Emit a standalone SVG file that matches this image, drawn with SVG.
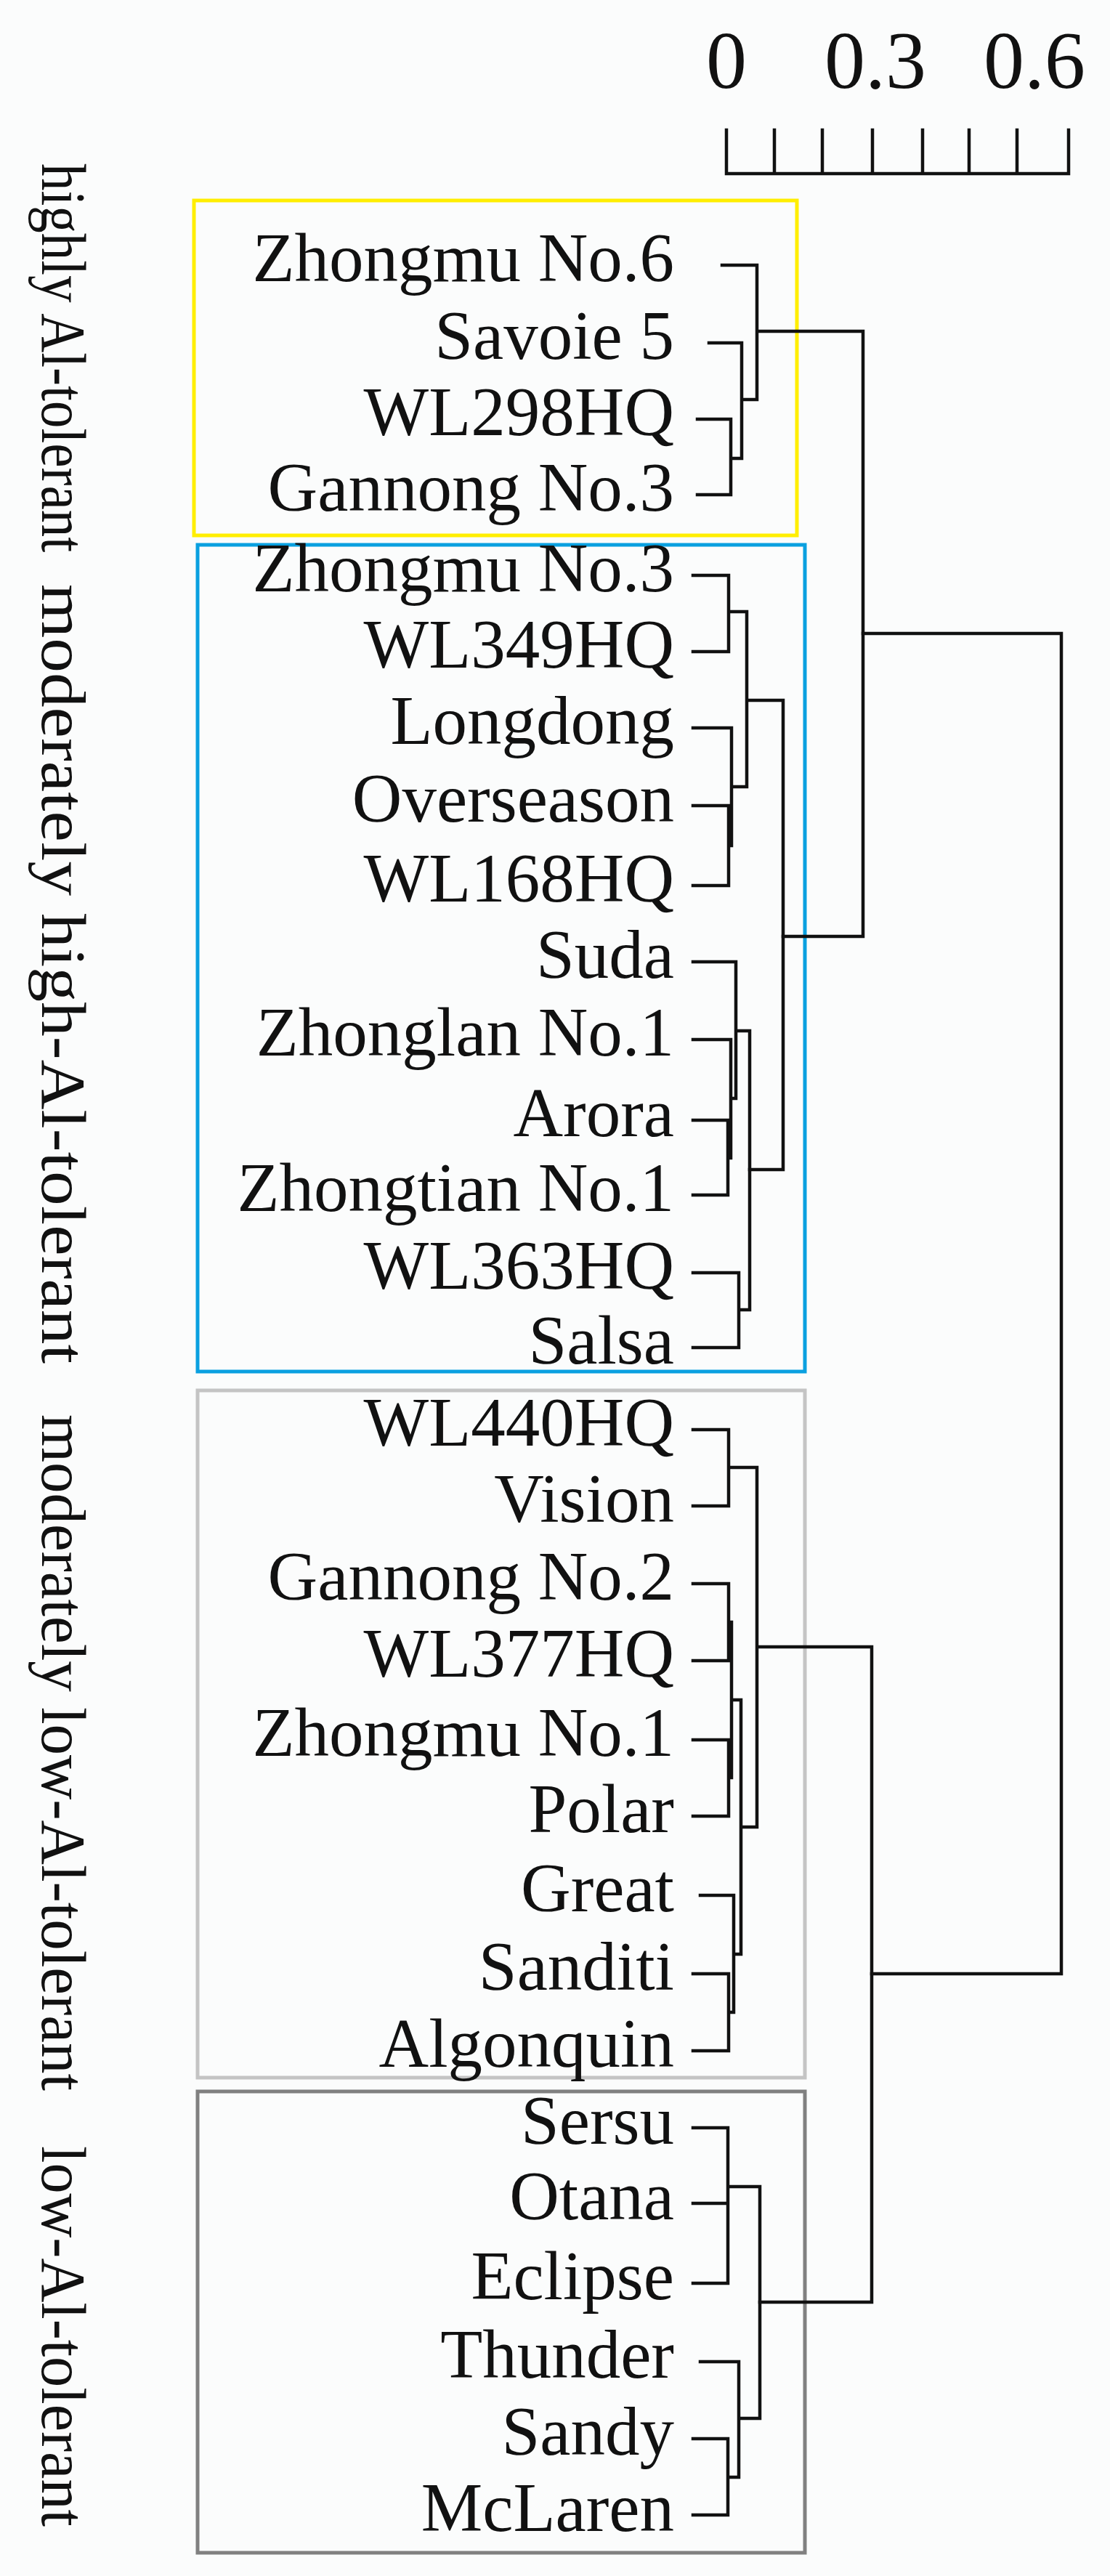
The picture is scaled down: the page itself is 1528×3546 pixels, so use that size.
<svg xmlns="http://www.w3.org/2000/svg" width="1528" height="3546" viewBox="0 0 1528 3546">
<style>
.lb{font-family:"Liberation Serif","Times New Roman",serif;font-size:95px;fill:#111;text-anchor:end}
.gl{font-family:"Liberation Serif","Times New Roman",serif;font-size:86px;fill:#111}
.sc{font-family:"Liberation Serif","Times New Roman",serif;font-size:112px;fill:#111;text-anchor:middle}
.ln{fill:none;stroke:#111;stroke-width:4.5;stroke-linecap:square}
.bx{fill:none;stroke-width:5}
</style>
<rect width="1528" height="3546" fill="#fbfcfc"/>
<g id="scale">
<text class="sc" x="1000" y="121">0</text>
<text class="sc" x="1205" y="121">0.3</text>
<text class="sc" x="1424" y="121">0.6</text>
<path class="ln" d="M1000 179V239H1471V179M1066 179V239M1132 179V239M1201 179V239M1270 179V239M1334 179V239M1400 179V239"/>
</g>
<g id="boxes">
<rect class="bx" x="267" y="276" width="830" height="461" stroke="#ffee00"/>
<rect class="bx" x="272" y="750" width="836" height="1138" stroke="#0aa0e0"/>
<rect class="bx" x="272" y="1914" width="836" height="946" stroke="#c4c4c4"/>
<rect class="bx" x="272" y="2879" width="836" height="635" stroke="#808080"/>
</g>
<g id="groups">
<text class="gl" transform="translate(58,225) rotate(90)" textLength="535" lengthAdjust="spacingAndGlyphs">highly Al-tolerant</text>
<text class="gl" transform="translate(58,804) rotate(90)" textLength="1073" lengthAdjust="spacingAndGlyphs">moderately high-Al-tolerant</text>
<text class="gl" transform="translate(58,1947) rotate(90)" textLength="931" lengthAdjust="spacingAndGlyphs">moderately low-Al-tolerant</text>
<text class="gl" transform="translate(58,2954) rotate(90)" textLength="524" lengthAdjust="spacingAndGlyphs">low-Al-tolerant</text>
</g>
<g id="leaves">
<text class="lb" x="928" y="387">Zhongmu No.6</text>
<text class="lb" x="928" y="494">Savoie 5</text>
<text class="lb" x="928" y="599">WL298HQ</text>
<text class="lb" x="928" y="703">Gannong No.3</text>
<text class="lb" x="928" y="814">Zhongmu No.3</text>
<text class="lb" x="928" y="919">WL349HQ</text>
<text class="lb" x="928" y="1024">Longdong</text>
<text class="lb" x="928" y="1131">Overseason</text>
<text class="lb" x="928" y="1241">WL168HQ</text>
<text class="lb" x="928" y="1346">Suda</text>
<text class="lb" x="928" y="1453">Zhonglan No.1</text>
<text class="lb" x="928" y="1564">Arora</text>
<text class="lb" x="928" y="1667">Zhongtian No.1</text>
<text class="lb" x="928" y="1774">WL363HQ</text>
<text class="lb" x="928" y="1877">Salsa</text>
<text class="lb" x="928" y="1990">WL440HQ</text>
<text class="lb" x="928" y="2095">Vision</text>
<text class="lb" x="928" y="2202">Gannong No.2</text>
<text class="lb" x="928" y="2308">WL377HQ</text>
<text class="lb" x="928" y="2417">Zhongmu No.1</text>
<text class="lb" x="928" y="2522">Polar</text>
<text class="lb" x="928" y="2631">Great</text>
<text class="lb" x="928" y="2739">Sanditi</text>
<text class="lb" x="928" y="2845">Algonquin</text>
<text class="lb" x="928" y="2951">Sersu</text>
<text class="lb" x="928" y="3055">Otana</text>
<text class="lb" x="928" y="3165">Eclipse</text>
<text class="lb" x="928" y="3273">Thunder</text>
<text class="lb" x="928" y="3379">Sandy</text>
<text class="lb" x="928" y="3484">McLaren</text>
</g>
<g id="connectors">
<path class="ln" d="M994 365H1042V550H1021M976 472H1021V631H1006M960 577H1006V681H960M1042 456H1188V1289H1078"/>
<path class="ln" d="M954 792H1003V897H954M1003 842H1028V1083H1007M954 1002H1007V1164H1003M954 1109H1003V1219H954M1028 964H1078V1610H1032"/>
<path class="ln" d="M954 1324H1013V1512H1006M954 1431H1006V1594H1002M954 1542H1002V1645H954M954 1752H1017V1855H954M1013 1419H1032V1803H1017"/>
<path class="ln" d="M1188 872H1461V2717H1200"/>
<path class="ln" d="M954 1968H1003V2073H954M1003 2020H1042V2515H1020M954 2180H1003V2286H954M1003 2233H1007V2447H1003M954 2395H1003V2500H954M1007 2340H1020V2690H1010M964 2609H1010V2770H1003M954 2717H1003V2823H954M1042 2267H1200V3169H1046"/>
<path class="ln" d="M954 2929H1002V3143H954M954 3033H1002M1002 3010H1046V3329H1017M964 3251H1017V3410H1002M954 3357H1002V3462H954"/>
</g>
</svg>
